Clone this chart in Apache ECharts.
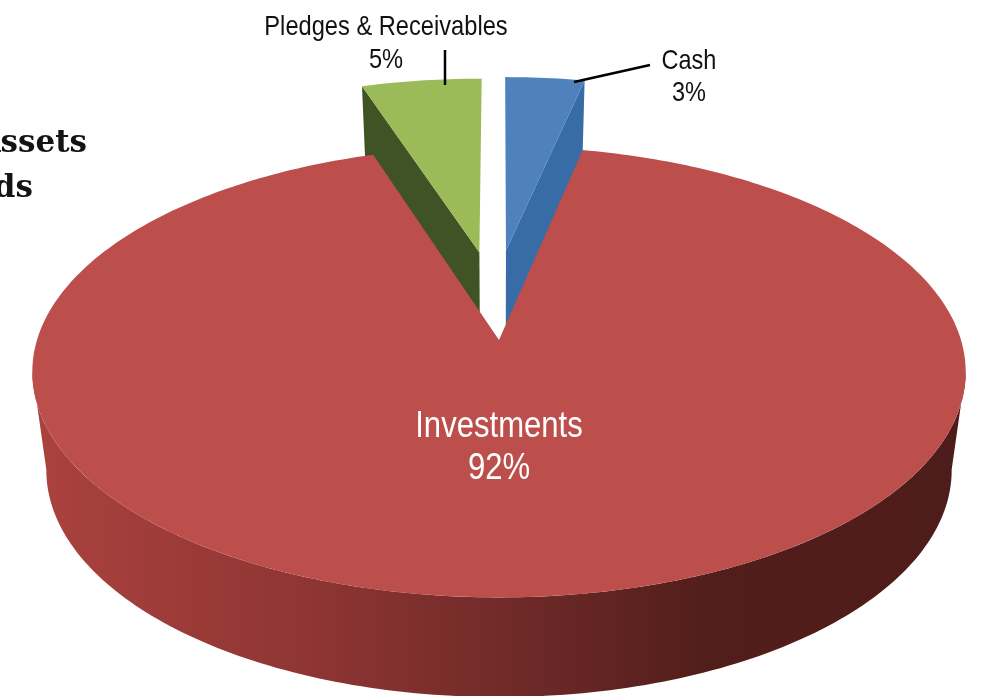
<!DOCTYPE html>
<html>
<head>
<meta charset="utf-8">
<style>html,body{margin:0;padding:0;background:#fff}#c{width:983px;height:696px}</style>
<script src="https://cdn.jsdelivr.net/npm/echarts@6/dist/echarts.min.js"></script>
</head>
<body>
<div id="c"></div>
<script>
const categories = ['Cash', 'Investments', 'Pledges & Receivables'];
const values = [3, 92, 5];
const titleLines = ['Assets', 'Funds'];

// Drawing constants (perspective view of a disc)
const topColors = ['#4f81bd', '#bc4f4c', '#9bbb59'];
const wallColors = ['#376ca6', '#bc4f4c', '#3f5324'];
const explode = [[0.016, 0.43], [0, 0], [-0.045, 0.42]];
const labelStyle = [
  { x: 689, y: 77, size: 28, sx: 0.84, lh: 32, color: '#111', line: [[574, 82], [650, 65]] },
  { x: 499, y: 448, size: 37, sx: 0.84, lh: 42, color: '#fff' },
  { x: 386, y: 44, size: 28, sx: 0.845, lh: 33, color: '#111', line: [[445, 50], [445, 85]] }
];
const cx = 499, cy = 340, rx = 462, ry = 221, persp = 0.1414, depth = 98, shrink = 0.03;
const seamShift = 1.1 * Math.PI / 180; // optical shift of the Cash / Investments seam

function proj(u, v, z) {
  const s = 1 / (1 + persp * v), k = 1 - shrink * z;
  return [cx + rx * u * s * k, cy - ry * v * s * k + depth * z * Math.pow(s, 0.6)];
}
function rim(off, a, z) {
  return proj(off[0] + Math.sin(a), off[1] + Math.cos(a), z);
}
const total = values.reduce((a, b) => a + b, 0);

function renderItem(params, api) {
  const i = params.dataIndex;
  const val = api.value(0);
  let before = 0;
  for (let j = 0; j < i; j++) before += values[j];
  let a0 = before / total * 2 * Math.PI;
  let a1 = a0 + val / total * 2 * Math.PI;
  if (i === 0) a1 += seamShift;
  if (i === 1) a0 += seamShift;
  const off = explode[i];
  const base = i === 1 ? 10 : 1;
  const children = [];
  const face = [proj(off[0], off[1], 0)];
  const steps = Math.max(8, Math.round((a1 - a0) * 60));
  for (let t = 0; t <= steps; t++) face.push(rim(off, a0 + (a1 - a0) * t / steps, 0));

  if (i === 1) {
    // curved outer wall of the large slice, visible front part
    const from = 98 * Math.PI / 180, to = 262 * Math.PI / 180, n = 160;
    const upper = [], lower = [];
    for (let t = 0; t <= n; t++) {
      const a = from + (to - from) * t / n;
      upper.push(rim(off, a, 0));
      lower.unshift(rim(off, a, 1));
    }
    children.push({
      type: 'polygon', z2: base,
      shape: { points: upper.concat(lower) },
      style: {
        fill: new echarts.graphic.LinearGradient(0, 0, 1, 0, [
          { offset: 0, color: '#ab423e' },
          { offset: 0.3, color: '#8e3533' },
          { offset: 0.5, color: '#722b29' },
          { offset: 0.72, color: '#521e1b' },
          { offset: 1, color: '#4e1c1a' }
        ])
      }
    });
  } else {
    const edge = (a0 + a1) / 2 < Math.PI ? a1 : a0;
    children.push({
      type: 'polygon', z2: base,
      shape: { points: [proj(off[0], off[1], 0), rim(off, edge, 0), rim(off, edge, 1), proj(off[0], off[1], 1)] },
      style: { fill: wallColors[i] }
    });
  }
  children.push({
    type: 'polygon', z2: base + 1,
    shape: { points: face },
    style: { fill: topColors[i] }
  });
  const lab = labelStyle[i];
  if (lab.line) {
    children.push({
      type: 'line', z2: 30,
      shape: { x1: lab.line[0][0], y1: lab.line[0][1], x2: lab.line[1][0], y2: lab.line[1][1] },
      style: { stroke: '#000', lineWidth: 2.5 }
    });
  }
  children.push({
    type: 'text', z2: 31, x: lab.x, y: lab.y, scaleX: lab.sx,
    style: {
      text: categories[i] + '\n' + val + '%',
      fill: lab.color, align: 'center', verticalAlign: 'middle',
      font: lab.size + 'px "Liberation Sans", sans-serif',
      lineHeight: lab.lh
    }
  });
  return { type: 'group', children };
}

const chart = echarts.init(document.getElementById('c'), null, { renderer: 'canvas' });
chart.setOption({
  animation: false,
  backgroundColor: '#fff',
  graphic: [
    { type: 'text', right: 983 - 87, top: 128, style: { text: titleLines[0], font: 'bold 31px "DejaVu Serif", serif', fill: '#141414' } },
    { type: 'text', right: 983 - 33, top: 173, style: { text: titleLines[1], font: 'bold 31px "DejaVu Serif", serif', fill: '#141414' } }
  ],
  series: [{
    type: 'custom',
    coordinateSystem: 'none',
    silent: true,
    renderItem,
    data: values.map((v, i) => ({ name: categories[i], value: [v] }))
  }]
});
</script>
</body>
</html>
